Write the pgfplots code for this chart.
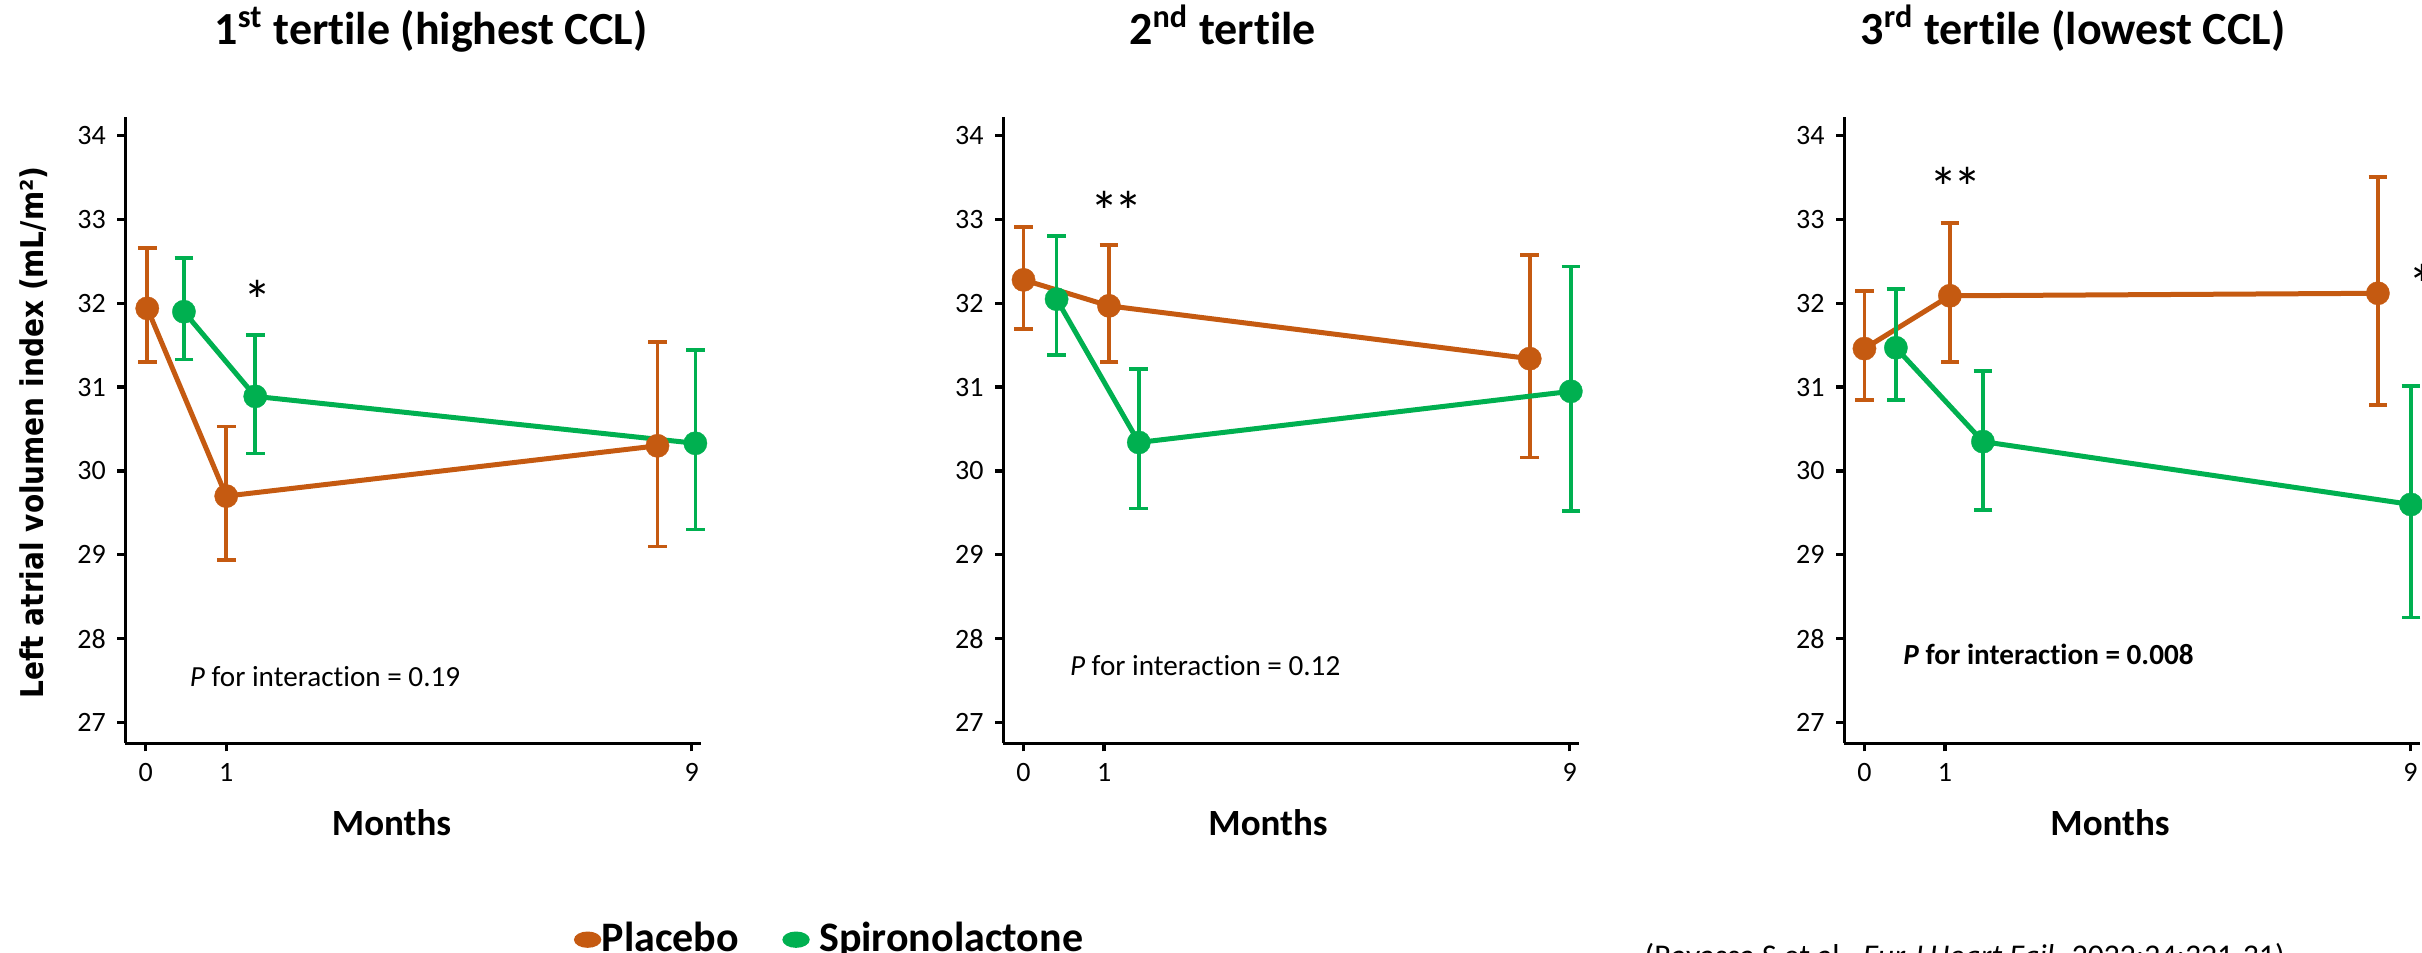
\documentclass[border=0pt]{standalone}
\usepackage{pgfplots}
\pgfplotsset{compat=1.18}
\usepackage{pgfplotstable}
\usepackage{fontspec}
\setmainfont{Carlito}[Ligatures={NoCommon}]
\newfontfamily\dvb{DejaVu Sans}
\definecolor{cP}{HTML}{C55A11}
\definecolor{cS}{HTML}{00B050}
\def\u{0.3pt}

% panel 1 (1st tertile)
\pgfplotstableread{
x y ep em
0.02 31.94 0.72 0.64
1.00 29.70 0.83 0.76
6.35 30.30 1.24 1.20
}\aP
\pgfplotstableread{
x y ep em
0.475 31.90 0.64 0.57
1.36 30.89 0.73 0.68
6.82 30.33 1.11 1.03
}\aS
% panel 2
\pgfplotstableread{
x y ep em
0.00 32.28 0.63 0.59
1.06 31.97 0.73 0.67
6.28 31.34 1.24 1.18
}\bP
\pgfplotstableread{
x y ep em
0.41 32.05 0.75 0.67
1.43 30.34 0.88 0.79
6.79 30.95 1.49 1.43
}\bS
% panel 3
\pgfplotstableread{
x y ep em
0.00 31.46 0.69 0.61
1.06 32.09 0.87 0.79
6.37 32.12 1.39 1.33
}\cP
\pgfplotstableread{
x y ep em
0.39 31.47 0.70 0.62
1.47 30.35 0.84 0.82
6.78 29.60 1.41 1.35
}\cS

\pgfplotsset{
  panel/.style={
    scale only axis, width=172.65pt, height=187.98pt,
    anchor=south west,
    xmin=-0.25, xmax=6.89, ymin=26.75, ymax=34.227,
    axis x line*=bottom, axis y line*=left,
    axis line style={line width=1pt},
    xtick={0,1,6.775}, xticklabels={0,1,9},
    ytick={27,28,29,30,31,32,33,34},
    tick align=outside, major tick length=2.4pt,
    tick style={line width=1pt, black},
    ticklabel style={font=\fontsize{8.4}{10}\selectfont},
    /pgf/number format/assume math mode=true,
    clip=false,
  },
  ser/.style={color=#1, line width=1.5pt, mark=*, mark size=3.5pt,
    mark options={solid, fill=#1, draw=#1, line width=0.1pt}, forget plot,
    error bars/.cd, y dir=both, y explicit,
    error bar style={line width=1.1pt, color=#1, solid},
    error mark options={line width=1.1pt, mark size=2.8pt, color=#1, rotate=90}},
}

\begin{document}
\begin{tikzpicture}
\useasboundingbox (0,0) rectangle (726.6pt,-285.9pt);

% ---- Panel 1
\begin{axis}[panel, at={(37.65pt,-222.99pt)},
  legend style={draw=none, fill=none, inner sep=0pt, outer sep=0pt,
    at={(0.7793,-0.3134)}, anchor=west, legend columns=2,
    nodes={inner sep=0pt, font=\bfseries\fontsize{12.6}{14}\selectfont},
    /tikz/every even column/.append style={column sep=13pt}},
  legend cell align=left]
\addlegendimage{legend image code/.code={\fill[cP] (12.5*\u,0) ellipse [x radius=13*\u, y radius=7.5*\u]; \path (26*\u,0);}}
\addlegendentry{Placebo}
\addlegendimage{legend image code/.code={\fill[cS] (12.5*\u,0) ellipse [x radius=13*\u, y radius=7.5*\u]; \path (35*\u,0);}}
\addlegendentry{Spironolactone}
\addplot[ser=cP] table[x=x, y=y, y error plus=ep, y error minus=em] {\aP};
\addplot[ser=cS] table[x=x, y=y, y error plus=ep, y error minus=em] {\aS};
\node[anchor=north, inner sep=0pt, font=\fontsize{17}{17}\selectfont] at (axis cs:1.39,32.28) {*};
\end{axis}

% ---- Panel 2
\begin{axis}[panel, at={(301.02pt,-222.99pt)}]
\addplot[ser=cP] table[x=x, y=y, y error plus=ep, y error minus=em] {\bP};
\addplot[ser=cS] table[x=x, y=y, y error plus=ep, y error minus=em] {\bS};
\node[anchor=north, inner sep=0pt, font=\fontsize{17}{17}\selectfont] at (axis cs:1.15,33.35) {*\kern-1.2pt*};
\end{axis}

% ---- Panel 3
\begin{axis}[panel, at={(553.29pt,-222.99pt)}]
\addplot[ser=cP] table[x=x, y=y, y error plus=ep, y error minus=em] {\cP};
\addplot[ser=cS] table[x=x, y=y, y error plus=ep, y error minus=em] {\cS};
\node[anchor=north, inner sep=0pt, font=\fontsize{17}{17}\selectfont] at (axis cs:1.13,33.63) {*\kern-1.2pt*};
\node[anchor=north west, inner sep=0pt, font=\fontsize{17}{17}\selectfont] at (axis cs:6.74,32.48) {*};
\end{axis}

% ---- Titles
\begin{scope}[every node/.style={inner sep=0pt, font=\bfseries\fontsize{13.8}{16}\selectfont, anchor=base}]
\node at (431*\u,-45*\u) {1\textsuperscript{st} tertile (highest CCL)};
\node at (1222.5*\u,-45*\u) {2\textsuperscript{nd} tertile};
\node at (2073*\u,-45*\u) {3\textsuperscript{rd} tertile (lowest CCL)};
\end{scope}

% ---- x-axis titles
\begin{scope}[every node/.style={inner sep=0pt, font=\bfseries\fontsize{11.1}{13}\selectfont, anchor=base}]
\node at (391.5*\u,-835*\u) {Months};
\node at (1268*\u,-835*\u) {Months};
\node at (2110*\u,-835*\u) {Months};
\end{scope}

% ---- y-axis title
\node[rotate=90, anchor=base, inner sep=0pt, font=\dvb\bfseries\fontsize{8.4}{10}\selectfont] at (43.4*\u,-432.5*\u) {\scalebox{1}[1.12]{Left atrial volumen index (mL/m²)}};

% ---- P for interaction
\begin{scope}[every node/.style={inner sep=0pt, font=\fontsize{8.75}{10}\selectfont, anchor=base west}]
\node at (189.3*\u,-686*\u) {\textit{P} for interaction = 0.19};
\node at (1069.4*\u,-675*\u) {\textit{P} for interaction = 0.12};
\node at (1902.8*\u,-664.9*\u) {\bfseries\itshape P\upshape{} for interaction = 0.008};
\end{scope}

% ---- citation (cut off at bottom edge)
\node[anchor=base west, inner sep=0pt, font=\fontsize{9.5}{11}\selectfont] at (1644*\u,-966*\u) {(Ravassa S et al., \textit{Eur J Heart Fail.} 2022;24:321-31)};
\end{tikzpicture}
\end{document}
